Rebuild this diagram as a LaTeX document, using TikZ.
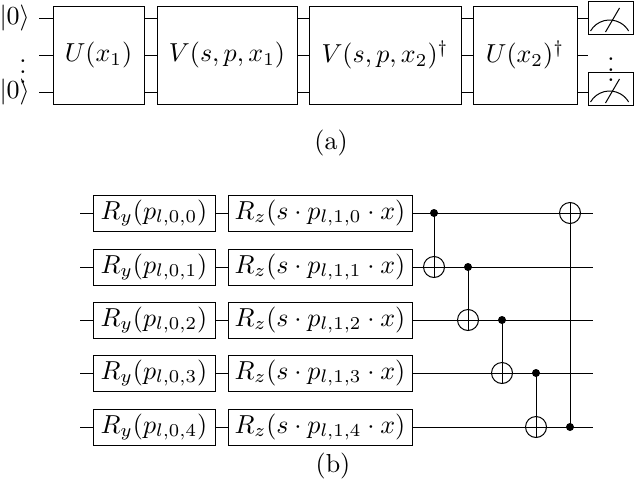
\documentclass[tikz,border=0pt]{standalone}
\usepackage{amsmath}
\usepackage{graphicx}
\newcommand{\bg}[1]{\scalebox{2.6}{#1}}
\begin{document}
\begin{tikzpicture}[x=1pt,y=-1pt,line width=1pt,
  gate/.style={draw,fill=white,inner sep=0pt},
  ctrl/.style={circle,fill,inner sep=0pt,minimum size=8pt},
  targ/.style={circle,draw,inner sep=0pt,minimum size=21pt,path picture={\draw (path picture bounding box.north)--(path picture bounding box.south) (path picture bounding box.west)--(path picture bounding box.east);}}]
\useasboundingbox (0,0) rectangle (636,490);
% (a)
\foreach \y in {18,55,92} \draw (39,\y) -- (588,\y);
\node[anchor=west,inner sep=0pt] (k0) at (-1,18) {\bg{$|0\rangle$}};
\node[anchor=west,inner sep=0pt] (k1) at (-1,92) {\bg{$|0\rangle$}};
\node[inner sep=0pt] (d0) at (23,64) {\bg{$\vdots$}};
\node[gate,minimum width=91pt,minimum height=98pt] (U1) at (98.5,55) {\bg{$U(x_1)$}};
\node[gate,minimum width=140pt,minimum height=98pt] (V1) at (227,55) {\bg{$V(s,p,x_1)$}};
\node[gate,minimum width=152pt,minimum height=98pt] (V2) at (385,55) {\bg{$V(s,p,x_2)^\dagger$}};
\node[gate,minimum width=104pt,minimum height=98pt] (U2) at (525,55) {\bg{$U(x_2)^\dagger$}};
\foreach \y/\n in {18/m0,89/m1}{
  \node[draw,fill=white,minimum width=45pt,minimum height=33pt,inner sep=0pt] (\n) at (610.5,\y) {};
  \draw (\n.south west)++(3,-4) arc[start angle=150,end angle=30,radius=22pt];
  \draw (\n.south)++(-5,-3) -- ++(14,-24);
}
\node[inner sep=0pt] (d1) at (611,62) {\bg{$\vdots$}};
\node (ca) at (331,143) {\bg{(a)}};
% (b)
\foreach \i/\y in {0/213,1/267,2/320,3/373,4/427}{
  \draw (80,\y) -- (593,\y);
  \node[gate,minimum width=122pt,minimum height=36pt] (ry\i) at (154,\y) {\bg{$R_y(p_{l,0,\i})$}};
  \node[gate,minimum width=184pt,minimum height=36pt] (rz\i) at (320,\y) {\bg{$R_z(s\cdot p_{l,1,\i}\cdot x)$}};
}
\foreach \x/\c/\t in {434/213/267,468/267/320,502/320/373,536/373/427}{
  \node[ctrl] (c\x) at (\x,\c) {};
  \node[targ] (t\x) at (\x,\t) {};
  \draw (c\x.center) -- (t\x.south);
}
\node[ctrl] (c570) at (570,427) {};
\node[targ] (t570) at (570,213) {};
\draw (c570.center) -- (t570.north);
\node (cb) at (333,466) {\bg{(b)}};
\end{tikzpicture}
\end{document}
